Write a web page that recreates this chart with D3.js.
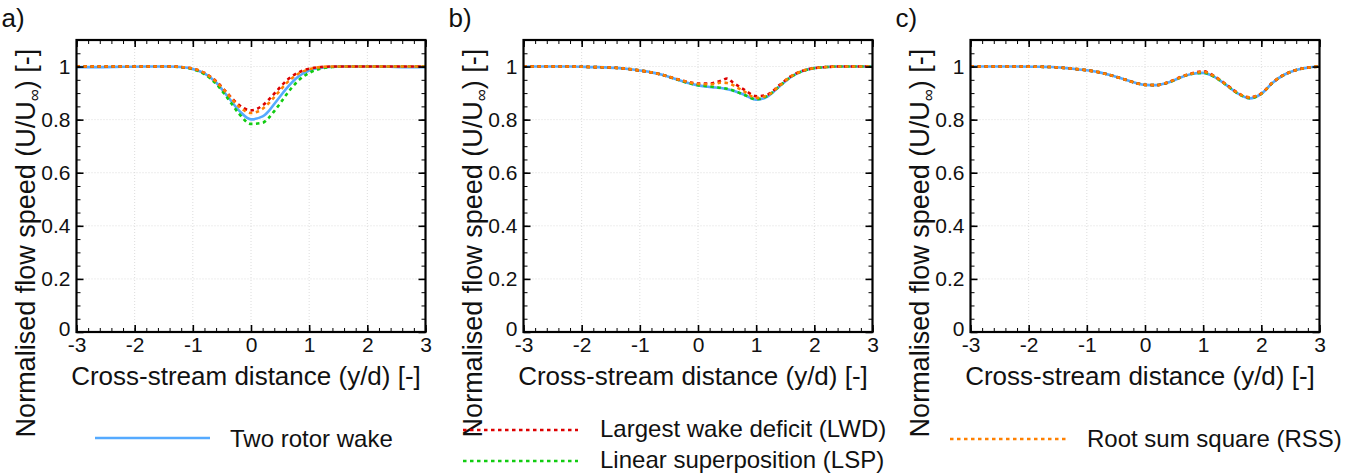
<!DOCTYPE html>
<html><head><meta charset="utf-8">
<script src="https://cdn.jsdelivr.net/npm/d3@7"></script>
<style>
body{margin:0;background:#fff;}
svg text{font-family:"Liberation Sans",Arial,sans-serif;fill:#111;}
</style></head>
<body>
<svg id="chart" width="1354" height="476"></svg>
<script>
// ---- data ----
const xs = [-3, -2.6, -2.2, -1.8, -1.6, -1.4, -1.2, -1.0, -0.8, -0.6, -0.4, -0.2, 0, 0.2, 0.3, 0.4, 0.5, 0.6, 0.8, 1.0, 1.2, 1.4, 1.6, 1.8, 2.0, 2.2, 2.4, 2.6, 2.8, 3.0];

const panelLabels = ["a)", "b)", "c)"];
const xTicks = [-3, -2, -1, 0, 1, 2, 3];
const yTicks = [0, 0.2, 0.4, 0.6, 0.8, 1];
const xTickLabels = ["-3", "-2", "-1", "0", "1", "2", "3"];
const yTickLabels = ["0", "0.2", "0.4", "0.6", "0.8", "1"];

// panel a
const twoRotorA = [0.998,0.998,0.999,1.0,1.0,1.0,0.998,0.991,0.974,0.940,0.887,0.833,0.801,0.812,0.831,0.859,0.887,0.915,0.960,0.985,0.995,0.999,1.0,1.0,1.0,1.0,0.999,0.998,0.998,0.998];
const lwdA = [1.0,1.0,1.0,1.0,1.0,1.0,0.998,0.992,0.976,0.945,0.898,0.854,0.835,0.854,0.874,0.898,0.922,0.945,0.976,0.992,0.998,1.0,1.0,1.0,1.0,1.0,1.0,1.0,1.0,1.0];
const lspA = [1.0,1.0,1.0,1.0,1.0,1.0,0.997,0.990,0.971,0.935,0.880,0.821,0.784,0.788,0.806,0.832,0.861,0.892,0.944,0.976,0.992,0.998,1.0,1.0,1.0,1.0,1.0,1.0,1.0,1.0];
const rssA = [1.0,1.0,1.0,1.0,1.0,1.0,0.998,0.992,0.976,0.943,0.896,0.848,0.825,0.841,0.861,0.885,0.910,0.935,0.971,0.990,0.998,1.0,1.0,1.0,1.0,1.0,1.0,1.0,1.0,1.0];

// panel b
const twoRotorB = [1.0,1.0,1.0,0.998,0.997,0.995,0.991,0.985,0.978,0.968,0.954,0.940,0.929,0.923,0.921,0.919,0.915,0.910,0.893,0.875,0.888,0.925,0.961,0.983,0.994,0.998,1.0,1.0,1.0,1.0];
const lwdB = [1.0,1.0,1.0,0.998,0.997,0.995,0.991,0.985,0.978,0.968,0.955,0.944,0.936,0.936,0.940,0.947,0.955,0.940,0.912,0.888,0.895,0.930,0.964,0.984,0.994,0.998,1.0,1.0,1.0,1.0];
const lspB = [1.0,1.0,1.0,0.998,0.997,0.995,0.991,0.985,0.978,0.968,0.954,0.940,0.930,0.925,0.922,0.920,0.916,0.910,0.893,0.877,0.890,0.926,0.961,0.983,0.994,0.998,1.0,1.0,1.0,1.0];
const rssB = [1.0,1.0,1.0,0.998,0.997,0.995,0.991,0.985,0.978,0.968,0.955,0.943,0.934,0.933,0.935,0.940,0.938,0.930,0.905,0.882,0.892,0.928,0.963,0.984,0.994,0.998,1.0,1.0,1.0,1.0];

// panel c
const twoRotorC = [1.0,1.0,1.0,0.999,0.998,0.995,0.991,0.986,0.979,0.968,0.955,0.941,0.931,0.930,0.934,0.940,0.948,0.958,0.972,0.976,0.960,0.930,0.898,0.880,0.897,0.940,0.970,0.987,0.996,1.0];
const lwdC = [1.0,1.0,1.0,0.999,0.998,0.995,0.991,0.986,0.979,0.968,0.955,0.941,0.931,0.930,0.934,0.941,0.950,0.960,0.974,0.982,0.963,0.932,0.900,0.884,0.899,0.941,0.970,0.987,0.996,1.0];
const lspC = [1.0,1.0,1.0,0.999,0.998,0.995,0.991,0.986,0.979,0.968,0.955,0.941,0.931,0.930,0.934,0.940,0.948,0.958,0.972,0.976,0.960,0.930,0.898,0.881,0.897,0.940,0.970,0.987,0.996,1.0];
const rssC = [1.0,1.0,1.0,0.999,0.998,0.995,0.991,0.986,0.979,0.968,0.955,0.941,0.931,0.930,0.934,0.941,0.949,0.959,0.973,0.980,0.962,0.931,0.899,0.884,0.898,0.941,0.970,0.987,0.996,1.0];

const seriesNames = ["Two rotor wake", "Largest wake deficit (LWD)", "Linear superposition (LSP)", "Root sum square (RSS)"];
const seriesColors = ["#55aaff", "#dd0000", "#11cc11", "#ff8000"];
const panelSeries = [
  [twoRotorA, lwdA, lspA, rssA],
  [twoRotorB, lwdB, lspB, rssB],
  [twoRotorC, lwdC, lspC, rssC]
];
const legendGroups = [[0], [1, 2], [3]];

// ---- layout ----
const svg = d3.select("#chart");
const PW = 349, PT = 40, PB = 332;
const lefts = [76.5, 523.5, 970.5];
const drawOrder = [0, 2, 1, 3];

panelSeries.forEach((series, p) => {
  const L = lefts[p];
  const x = d3.scaleLinear().domain([-3, 3]).range([L, L + PW]);
  const y = d3.scaleLinear().domain([0, 1.1]).range([PB, PT]);
  const g = svg.append("g");

  // grid
  g.selectAll(".gx").data(xTicks.slice(1, -1)).join("line")
    .attr("x1", d => x(d)).attr("x2", d => x(d)).attr("y1", PT).attr("y2", PB)
    .attr("stroke", "#dcdcdc").attr("stroke-width", 1).attr("stroke-dasharray", "1,2");
  g.selectAll(".gy").data(yTicks.slice(1)).join("line")
    .attr("x1", L).attr("x2", L + PW).attr("y1", d => y(d)).attr("y2", d => y(d))
    .attr("stroke", "#dcdcdc").attr("stroke-width", 1).attr("stroke-dasharray", "1,2");

  // curves
  const clipId = "clip" + p;
  svg.append("clipPath").attr("id", clipId).append("rect")
    .attr("x", L).attr("y", PT).attr("width", PW).attr("height", PB - PT);
  const line = d3.line().x((d, i) => x(xs[i])).y(d => y(d)).curve(d3.curveMonotoneX);
  drawOrder.forEach(s => {
    g.append("path").datum(series[s]).attr("d", line)
      .attr("clip-path", `url(#${clipId})`)
      .attr("fill", "none").attr("stroke", seriesColors[s])
      .attr("stroke-width", 2.6)
      .attr("stroke-dasharray", s === 0 ? null : "3.5,3.5");
  });

  // axes with inward ticks
  const minorX = d3.range(-3, 3.001, 0.2).map(v => +v.toFixed(2));
  const minorY = d3.range(0, 1.1001, 0.05).map(v => +v.toFixed(3));
  const axB = d3.axisBottom(x).tickValues(xTicks).tickSize(-7).tickPadding(5)
    .tickFormat((d, i) => xTickLabels[i]);
  const axBm = d3.axisBottom(x).tickValues(minorX).tickSize(-4).tickFormat("");
  const axT = d3.axisTop(x).tickValues(xTicks).tickSize(-7).tickFormat("");
  const axTm = d3.axisTop(x).tickValues(minorX).tickSize(-4).tickFormat("");
  const axL = d3.axisLeft(y).tickValues(yTicks).tickSize(-7).tickPadding(6)
    .tickFormat((d, i) => yTickLabels[i]);
  const axLm = d3.axisLeft(y).tickValues(minorY).tickSize(-4).tickFormat("");
  const axR = d3.axisRight(y).tickValues(yTicks).tickSize(-7).tickFormat("");
  const axRm = d3.axisRight(y).tickValues(minorY).tickSize(-4).tickFormat("");

  const addAxis = (ax, tr, sw) => {
    const a = g.append("g").attr("transform", tr).call(ax);
    a.select(".domain").remove();
    a.selectAll(".tick line").attr("stroke", "#000").attr("stroke-width", sw);
    a.selectAll("text").attr("font-size", 21).attr("fill", "#111")
      .style("font-family", '"Liberation Sans", Arial, sans-serif');
    return a;
  };
  addAxis(axBm, `translate(0,${PB})`, 1);
  addAxis(axB, `translate(0,${PB})`, 1.6);
  addAxis(axTm, `translate(0,${PT})`, 1);
  addAxis(axT, `translate(0,${PT})`, 1.6);
  addAxis(axLm, `translate(${L},0)`, 1);
  const la = addAxis(axL, `translate(${L},0)`, 1.6);
  // the "0" label sits slightly raised, as in the reference
  la.selectAll(".tick text").filter(d => d === 0).attr("y", -3);
  addAxis(axRm, `translate(${L + PW},0)`, 1);
  addAxis(axR, `translate(${L + PW},0)`, 1.6);

  // frame
  g.append("rect").attr("x", L).attr("y", PT).attr("width", PW).attr("height", PB - PT)
    .attr("fill", "none").attr("stroke", "#000").attr("stroke-width", 2.2);

  // panel label
  g.append("text").attr("x", L - 75).attr("y", 27).attr("font-size", 26).text(panelLabels[p]);

  // axis titles
  g.append("text").attr("x", L + PW / 2 - 5).attr("y", 385).attr("text-anchor", "middle")
    .attr("font-size", 26).text("Cross-stream distance (y/d) [-]");
  const yt = g.append("text").attr("transform", `translate(${L - 42},243) rotate(-90)`)
    .attr("font-size", 27);
  yt.append("tspan").text("Normalised flow speed (U/U");
  yt.append("tspan").attr("font-size", 17).attr("dy", 5).text("∞");
  yt.append("tspan").attr("dy", -5).text(") [-]");
  const len = yt.node().getComputedTextLength();
  yt.attr("x", -len / 2);
});

// legends
const legendPos = [
  [{x1: 95, x2: 210, y: 438, tx: 230, ty: 447}],
  [{x1: 463, x2: 578, y: 430, tx: 600, ty: 437}, {x1: 463, x2: 578, y: 461, tx: 600, ty: 468}],
  [{x1: 950, x2: 1066, y: 439, tx: 1087, ty: 447}]
];
legendGroups.forEach((grp, p) => {
  grp.forEach((s, k) => {
    const pos = legendPos[p][k];
    svg.append("line").attr("x1", pos.x1).attr("x2", pos.x2).attr("y1", pos.y).attr("y2", pos.y)
      .attr("stroke", seriesColors[s]).attr("stroke-width", 2.6)
      .attr("stroke-dasharray", s === 0 ? null : "3.5,3.5");
    svg.append("text").attr("x", pos.tx).attr("y", pos.ty).attr("font-size", 24).text(seriesNames[s]);
  });
});
</script>
</body></html>
